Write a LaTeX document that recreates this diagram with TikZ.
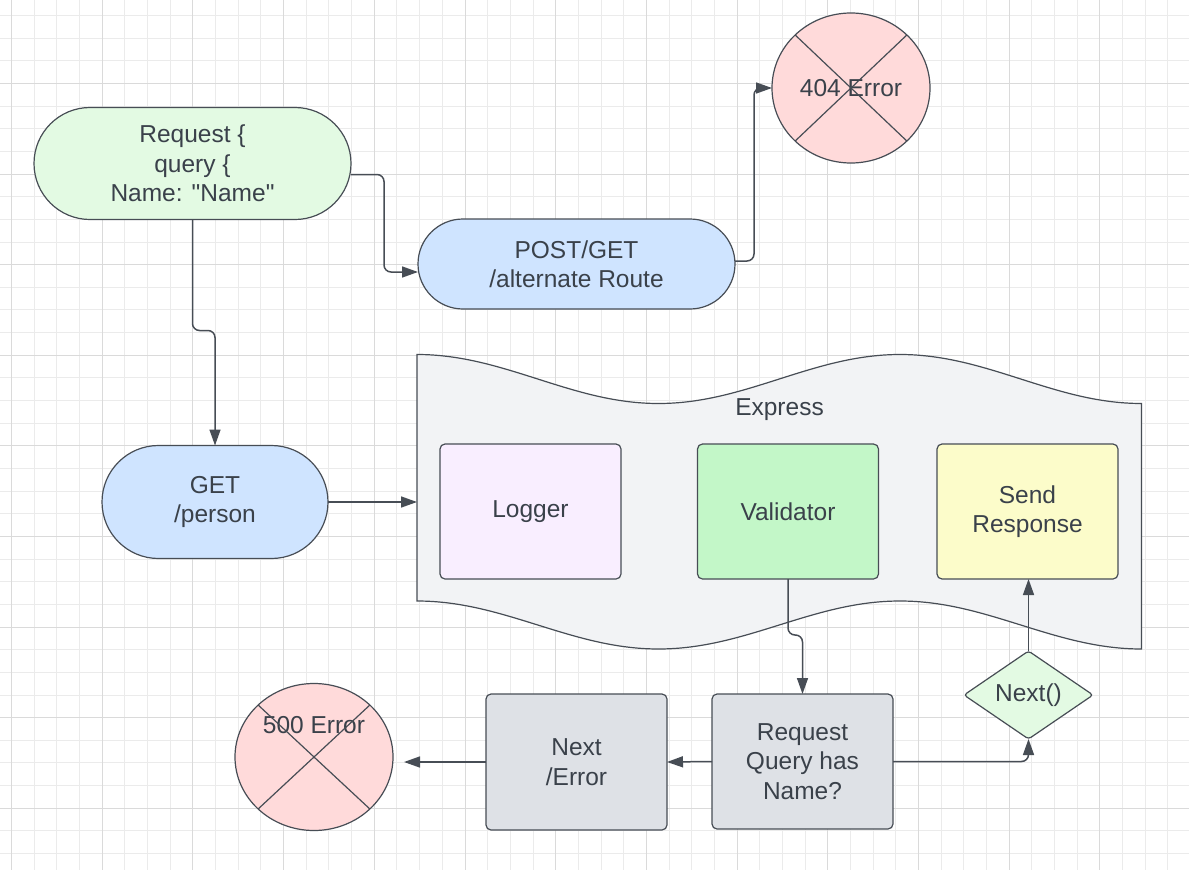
\documentclass[tikz,border=0pt]{standalone}
\usepackage{fontspec}
\setmainfont{Liberation Sans}
\usetikzlibrary{shapes.geometric,shapes.misc,arrows.meta,calc}
\definecolor{txt}{HTML}{3A414A}
\definecolor{edge}{HTML}{474D55}
\definecolor{gridminor}{HTML}{EBEBEB}
\definecolor{gridmajor}{HTML}{DADADA}
\definecolor{lgreen}{HTML}{E3FAE3}
\definecolor{lblue}{HTML}{CFE4FF}
\definecolor{lpink}{HTML}{FFDADA}
\definecolor{lgrey}{HTML}{F2F3F5}
\definecolor{lpurple}{HTML}{F9EEFF}
\definecolor{mgreen}{HTML}{C3F7C8}
\definecolor{lyellow}{HTML}{FCFCCA}
\definecolor{mgrey}{HTML}{DEE1E6}
\begin{document}
\begin{tikzpicture}[x=1pt,y=-1pt,
  every node/.style={text=txt, font=\fontsize{24.5}{29.5}\selectfont, align=center, inner sep=0pt, outer sep=0pt},
  shp/.style={draw=edge, line width=1.2pt},
  stadium/.style={shp, rounded rectangle, rounded rectangle arc length=180},
  box/.style={shp, rectangle, rounded corners=5pt, minimum width=181pt, minimum height=135pt},
  errc/.style={shp, ellipse, fill=lpink},
  conn/.style={draw=edge, line width=1.5pt, rounded corners=7pt, -{Triangle[length=16pt,width=11pt]}},
  gmin/.style={draw=gridminor, line width=1pt},
  gmaj/.style={draw=gridmajor, line width=1pt},
]
\useasboundingbox (0,0) rectangle (1189,870);
\fill[white] (0,0) rectangle (1189,870);
% grid
\foreach \k in {0,...,52} \draw[gmin] ({11.6+22.67*\k},0) -- ({11.6+22.67*\k},870);
\foreach \k in {0,...,37} \draw[gmin] (0,{15.5+22.65*\k}) -- (1189,{15.5+22.65*\k});
\foreach \k in {0,4,...,52} \draw[gmaj] ({11.6+22.67*\k},0) -- ({11.6+22.67*\k},870);
\foreach \k in {3,7,...,35} \draw[gmaj] (0,{15.5+22.65*\k}) -- (1189,{15.5+22.65*\k});

% Express wavy container
\draw[shp, fill=lgrey] plot[domain=0:3, samples=90, smooth] ({417+\x*241.5},{379-24.5*cos(\x*180)})
  -- plot[domain=3:0, samples=90, smooth] ({417+\x*241.5},{625-24*cos(\x*180)}) -- cycle;
\node[minimum width=724pt, minimum height=294pt] (express) at (779,502) {};
\node (exlbl) at (779.5,410) {Express};

% nodes
\node[stadium, fill=lgreen, minimum width=317pt, minimum height=112pt] (req) at (192.5,163.5) {Request \{\\query \{\\Name: \textquotedbl Name\textquotedbl};
\node[stadium, fill=lblue, minimum width=317pt, minimum height=90pt] (post) at (576.5,264) {POST/GET\\/alternate Route};
\node[stadium, fill=lblue, minimum width=226pt, minimum height=113pt] (get) at (215,502) {GET\\/person};

\node[errc, minimum width=158pt, minimum height=150pt] (e404) at (851,88) {404 Error};
\draw[shp] (e404.north west) -- (e404.south east);
\draw[shp] (e404.north east) -- (e404.south west);

\node[errc, minimum width=158pt, minimum height=147pt] (e500) at (314,757) {};
\node (e500t) at (314,725.5) {500 Error};
\draw[shp] (e500.north west) -- (e500.south east);
\draw[shp] (e500.north east) -- (e500.south west);

\node[box, fill=lpurple] (logger) at (530.5,511.5) {Logger};
\node[box, fill=mgreen] (val) at (788,511.5) {Validator};
\node[box, fill=lyellow] (send) at (1027.5,511.5) {Send\\Response};
\node[box, fill=mgrey] (rq) at (802.5,761.5) {Request\\Query has\\Name?};
\node[box, fill=mgrey, minimum height=136pt] (nerr) at (576.5,762) {Next\\/Error};
\node[shp, diamond, aspect=1.5, rounded corners=3pt, fill=lgreen, minimum width=129pt, minimum height=88pt] (next) at (1028.5,695) {Next()};

% connectors
\draw[conn] ([yshift=-11pt]req.east) -| ($([yshift=-8pt]post.west)+(-34,0)$) -- ([yshift=-8pt]post.west);
\draw[conn] ([yshift=3pt]post.east) -| ($(e404.west)+(-18,0)$) -- (e404.west);
\draw[conn] (req.south) |- ($(get.north)+(0,-115)$) -- (get.north);
\draw[conn] (get.east) -- (express.west);
\draw[conn] (val.south) |- ($(rq.north)+(0,-59)$) -- (rq.north);
\draw[conn] (rq.east) -| (next.south);
\draw[conn] (next.north) -- (next.north |- send.south);
\draw[conn] (rq.west) -- (nerr.east);
\draw[conn, shorten >=11pt] (nerr.west) -- (nerr.west -| e500.east);
\end{tikzpicture}
\end{document}
